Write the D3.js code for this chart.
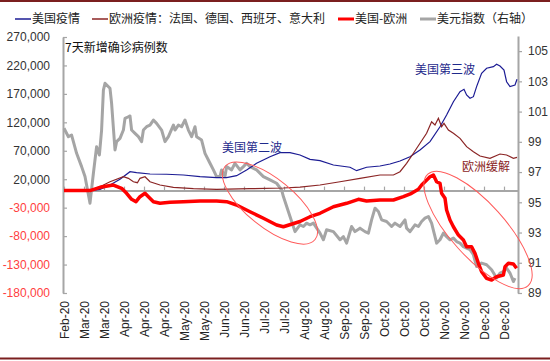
<!DOCTYPE html>
<html>
<head>
<meta charset="utf-8">
<script src="https://cdn.jsdelivr.net/npm/d3@7"></script>
<style>
  body { margin: 0; background: #fff; }
  svg { display: block; }
</style>
</head>
<body>
<div class="canvas"></div>
<script>
// category labels, one every 10 trading days
const xLabels = ["Feb-20","Mar-20","Mar-20","Apr-20","Apr-20","Apr-20","May-20","May-20","Jun-20","Jun-20",
  "Jul-20","Jul-20","Aug-20","Aug-20","Sep-20","Sep-20","Oct-20","Oct-20","Oct-20","Nov-20","Nov-20","Dec-20","Dec-20"];
const leftTicks = [-180000,-130000,-80000,-30000,20000,70000,120000,170000,220000,270000];
const rightTicks = [89,91,93,95,97,99,101,103,105];

// [trading day index, 7-day new cases]
const usCases = [[0,0],[13,0],[18,2300],[23,9800],[28,19900],[33,33200],[36.3,31500],[43,29200],[51.3,28700],
  [59.7,27400],[68,24400],[76.3,22700],[81.3,22700],[86.3,26200],[91.3,36200],[96.3,48000],[103,59600],
  [108,66600],[113,66600],[118,62600],[123,55000],[128,52600],[134.7,45000],[143,41000],[146.3,35000],
  [151.3,41000],[158,43200],[163,46800],[168,52000],[173,59600],[178,71400],[183,86000],[188,112300],
  [191.3,132900],[194.7,156300],[198,173900],[200,178100],[201.3,168100],[203,162300],[204.7,165100],
  [206.3,182700],[208.8,206200],[211.3,215000],[214.7,217800],[216.3,222000],[218,219000],[220,212000],
  [221.3,191400],[223,182700],[225.5,185600],[226.5,195700]];

const euCases = [[0,0],[13,0],[18,6900],[23,15600],[29.7,24400],[32.2,21600],[34.7,15600],[36.7,13900],
  [38,21600],[40.5,24400],[43,15600],[48,9800],[54.7,5800],[64.7,3300],[76.3,2300],[93,3300],[109.7,4600],
  [118,6000],[128,9800],[138,15600],[148,21600],[158,27400],[164.7,27400],[168,33200],[171.3,48000],
  [174.7,65600],[178,83200],[181.3,100700],[183.8,121100],[185.5,115300],[187.2,127100],[188.8,112300],
  [190,118300],[192.2,106500],[194.7,100700],[198,91900],[201.3,77200],[204.7,68400],[208,60800],
  [213,56800],[218,64300],[221.3,62600],[224.7,56800],[226.5,58500]];

const usMinusEu = [[0,0],[13,0],[18,5800],[24.7,9800],[28.8,4000],[31.3,-4700],[33.8,-15300],[36,-19500],
  [38,-10700],[40.5,-4700],[42.2,-10700],[44.7,-19500],[48,-22300],[53,-20600],[59.7,-19500],[68,-18300],
  [76.3,-18300],[81.3,-19500],[86.3,-25300],[93,-37100],[99.7,-48700],[106.3,-60500],[109.7,-63500],
  [118,-54300],[123,-45900],[128,-39900],[134.7,-28300],[141.3,-22300],[147.2,-15300],[151.3,-18300],
  [158,-16500],[164.7,-16500],[169.7,-10700],[173.8,-4700],[177.2,2300],[178.8,9800],[180.5,15600],
  [183,24400],[184.7,27400],[186.3,15600],[188,12800],[188.8,-4700],[190.5,-13500],[191.3,-34100],
  [193,-51700],[194.7,-63500],[197.2,-78100],[199.7,-86800],[201.3,-98600],[203.8,-98600],[205.5,-110300],
  [207.2,-127800],[208.8,-142600],[211.3,-154200],[213.8,-157200],[216.3,-151400],[219.7,-148400],
  [220.5,-133800],[222.2,-127800],[224.7,-129000],[226.3,-136600]];

// [trading day index, dollar index] (right axis)
const dollarIndex = [[0,99.9],[2.2,99.34],[3.8,99.45],[6.3,98.24],[8.8,97.36],[10.5,96.7],[13,94.94],
  [14.7,96.92],[16.3,98.68],[17.7,98.13],[18.8,99.78],[19.7,102.42],[20.5,102.87],[23,102.54],[23.8,101.55],
  [25.5,98.46],[26.3,99.01],[28,99.23],[29.7,99.78],[30.5,100.55],[32.2,100.66],[33,100.71],[33.8,99.78],
  [35.5,99.56],[37.2,99.34],[38.8,99.01],[39.7,99.78],[41.3,100.0],[43,100.11],[44.7,100.44],[46.3,100.22],
  [48.8,99.78],[50.5,99.01],[52.2,99.34],[54.7,100.11],[55.5,99.78],[57.2,100.11],[58.8,100.0],[60.5,100.44],
  [62.2,99.78],[63.8,99.34],[65.5,100.0],[66.3,99.34],[68.8,99.12],[70.5,98.24],[73,97.58],[74.7,97.14],
  [76.3,96.7],[78,96.7],[78.8,97.14],[80.5,96.7],[81.3,97.36],[83.8,97.14],[85.5,97.58],[88,97.14],
  [89.7,97.36],[91.3,97.58],[93,97.36],[96.3,97.14],[99.7,96.7],[103,96.48],[106.3,96.26],[108.8,95.82],
  [109.7,95.38],[113,94.06],[115.5,93.06],[118,93.51],[119.7,93.4],[121.3,93.62],[123,93.51],[124.7,93.62],
  [128,92.96],[129.7,92.52],[131.3,93.18],[134.7,93.06],[138,92.52],[139.7,92.73],[141.3,92.3],[143.8,93.4],
  [145.5,93.06],[148,93.29],[150.5,93.06],[152.2,92.96],[153.8,93.84],[155.5,94.61],[157.2,94.39],
  [158.8,93.84],[161.3,93.73],[163.8,93.4],[165.5,93.62],[168,93.4],[170.5,93.84],[171.3,93.29],[173,93.06],
  [175.5,93.51],[177.2,93.4],[178.8,93.73],[180.5,93.95],[182.2,94.06],[183.8,93.62],[185.5,92.73],
  [186.3,92.3],[188,92.52],[189.7,92.96],[191.3,92.73],[193,92.52],[194.7,92.63],[196.3,92.4],[198,92.3],
  [199.7,92.07],[201.3,91.97],[203,91.86],[204.7,91.53],[206.3,90.75],[208.8,90.98],[211.3,90.87],
  [213.8,90.54],[216.3,89.99],[218,90.32],[219.7,90.42],[221.3,90.65],[223,90.32],[224.7,89.76],[225.5,89.99]];

const seriesNames = ["美国疫情", "欧洲疫情：法国、德国、西班牙、意大利", "美国-欧洲", "美元指数（右轴）"];
const notes = [["美国第二波", 79, 74900, "#1f2a8c"], ["美国第三波", 175.5, 212000, "#1f2a8c"], ["欧洲缓解", 199, 41500, "#8b2525"]];
const circles = [[103, 94.95, 58, 24, 39], [207, 93.17, 75, 27, 48]];

const W = 550, H = 361;
const fontNum = "'Liberation Sans', Arial, sans-serif";
const fontCjk = "'Noto Sans CJK SC', 'Noto Sans', sans-serif";
const axisGray = "#a6a6a6";

const svg = d3.select('.canvas').append('svg').attr('width', W).attr('height', H);

// frame lines top and bottom
svg.append('rect').attr('x', 0).attr('y', 0).attr('width', W).attr('height', 2).attr('fill', '#7b1f1f');
svg.append('rect').attr('x', 0).attr('y', 357.5).attr('width', W).attr('height', 2).attr('fill', '#7b1f1f');

const x = d3.scaleLinear().domain([-0.5, 227]).range([63, 518]);
const yL = d3.scaleLinear().domain([-180000, 270000]).range([293, 37]);
const yR = d3.scaleLinear().domain([89, 106]).range([293, 36]);

// left axis
const fmt = d => d3.format(',')(d).replace('\u2212', '-');
const leftAxis = svg.append('g').attr('transform', 'translate(63,0)')
  .call(d3.axisLeft(yL).tickValues(leftTicks).tickFormat(fmt).tickSizeInner(-4).tickSizeOuter(0).tickPadding(13));
leftAxis.selectAll('text')
  .attr('font-family', fontNum).attr('font-size', 12)
  .attr('fill', d => d < 0 ? '#ff4040' : '#333');

// right axis
const rightAxis = svg.append('g').attr('transform', 'translate(518,0)')
  .call(d3.axisRight(yR).tickValues(rightTicks).tickSizeInner(4).tickSizeOuter(0).tickPadding(6));
rightAxis.selectAll('text').attr('font-family', fontNum).attr('font-size', 12).attr('fill', '#333');

// x axis along zero with inward ticks
const tickIdx = xLabels.map((d, i) => i * 10);
const zeroAxis = svg.append('g').attr('transform', `translate(0,${yL(0)})`)
  .call(d3.axisBottom(x).tickValues(tickIdx).tickFormat('').tickSizeInner(-4).tickSizeOuter(0));

// x labels at the bottom
const labelAxis = svg.append('g').attr('transform', 'translate(0,298)')
  .call(d3.axisBottom(x).tickValues(tickIdx).tickFormat((d, i) => xLabels[i]).tickSize(0));
labelAxis.select('.domain').remove();
labelAxis.selectAll('text')
  .attr('transform', 'rotate(-90)')
  .attr('x', -3).attr('y', 0).attr('dy', '0.35em')
  .attr('text-anchor', 'end')
  .attr('font-family', fontNum).attr('font-size', 12).attr('fill', '#222');

[leftAxis, rightAxis, zeroAxis].forEach(g => {
  g.select('.domain').attr('stroke', axisGray).attr('stroke-width', 2);
  g.selectAll('.tick line').attr('stroke', axisGray).attr('stroke-width', 1.2);
});

const lineL = d3.line().x(d => x(d[0])).y(d => yL(d[1]));
const lineR = d3.line().x(d => x(d[0])).y(d => yR(d[1]));

svg.append('path').datum(dollarIndex).attr('d', lineR)
  .attr('fill', 'none').attr('stroke', '#a5a5a5').attr('stroke-width', 3).attr('stroke-linejoin', 'round');
svg.append('path').datum(usCases).attr('d', lineL)
  .attr('fill', 'none').attr('stroke', '#1c1c94').attr('stroke-width', 1.2);
svg.append('path').datum(euCases).attr('d', lineL)
  .attr('fill', 'none').attr('stroke', '#8b2525').attr('stroke-width', 1.2);
svg.append('path').datum(usMinusEu).attr('d', lineL)
  .attr('fill', 'none').attr('stroke', '#ff0000').attr('stroke-width', 3.5).attr('stroke-linejoin', 'round');

// highlight ellipses
circles.forEach(c => {
  svg.append('ellipse')
    .attr('transform', `translate(${x(c[0])},${yR(c[1])}) rotate(${c[4]})`)
    .attr('rx', c[2]).attr('ry', c[3])
    .attr('fill', 'none').attr('stroke', '#ff5a5a').attr('stroke-width', 1);
});

// annotations
svg.append('text').attr('x', 65).attr('y', 47.5).attr('dy', '0.35em')
  .attr('font-family', fontCjk).attr('font-size', 12).attr('fill', '#111')
  .text('7天新增确诊病例数');
notes.forEach(n => {
  svg.append('text').attr('x', x(n[1])).attr('y', yL(n[2])).attr('dy', '0.35em')
    .attr('font-family', fontCjk).attr('font-size', 12).attr('fill', n[3])
    .text(n[0]);
});

// legend
const legendItems = [
  { name: seriesNames[0], colour: '#1c1c94', w: 1.5, x: 15 },
  { name: seriesNames[1], colour: '#8b2525', w: 1.5, x: 92 },
  { name: seriesNames[2], colour: '#ff0000', w: 3, x: 338 },
  { name: seriesNames[3], colour: '#a5a5a5', w: 3, x: 420 }
];
const legend = svg.selectAll('.legend').data(legendItems).enter().append('g')
  .attr('class', 'legend')
  .attr('transform', d => `translate(${d.x},19)`);
legend.append('line').attr('x1', 0).attr('x2', 16).attr('y1', 0).attr('y2', 0)
  .attr('stroke', d => d.colour).attr('stroke-width', d => d.w);
legend.append('text').attr('x', 17).attr('y', 0).attr('dy', '0.35em')
  .attr('font-family', fontCjk).attr('font-size', 12).attr('fill', '#222')
  .text(d => d.name);
</script>
</body>
</html>
